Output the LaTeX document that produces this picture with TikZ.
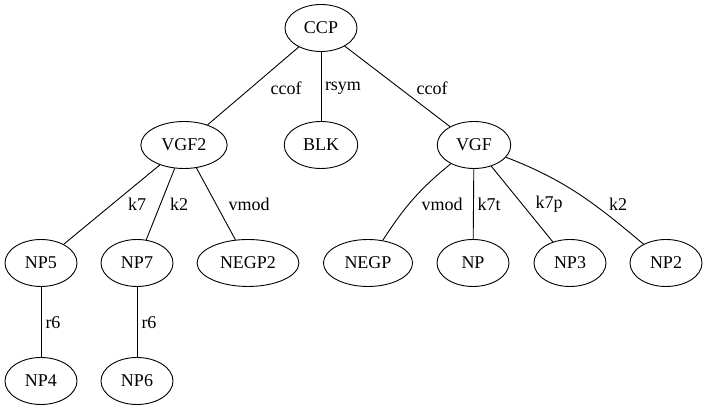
\documentclass[tikz,border=0pt]{standalone}
\usepackage{fontspec}
\setmainfont{Liberation Serif}
\usetikzlibrary{shapes.geometric}
\begin{document}
\begin{tikzpicture}[x=1pt,y=1pt,
  every node/.style={font=\fontsize{18}{21}\selectfont},
  tnode/.style={draw, ellipse, line width=0.9pt, minimum height=47pt,
    minimum width=72pt, inner xsep=8pt, inner ysep=2pt},
  lbl/.style={inner sep=0pt},
  link/.style={line width=0.9pt}]
\useasboundingbox (0,0) rectangle (707,411);
% tree nodes
\node[tnode] (CCP)   at (321,383) {CCP};
\node[tnode] (VGF2)  at (184,266) {VGF2};
\node[tnode] (BLK)   at (321,266) {BLK};
\node[tnode] (VGF)   at (474,266) {VGF};
\node[tnode] (NP5)   at (41,148)  {NP5};
\node[tnode] (NP7)   at (137,148) {NP7};
\node[tnode] (NEGP2) at (248,148) {NEGP2};
\node[tnode] (NEGP)  at (368,148) {NEGP};
\node[tnode] (NP)    at (473,148) {NP};
\node[tnode] (NP3)   at (570,148) {NP3};
\node[tnode] (NP2)   at (666,148) {NP2};
\node[tnode] (NP4)   at (41,30)   {NP4};
\node[tnode] (NP6)   at (137,30)  {NP6};
% connectors
\draw[link] (CCP) -- (VGF2);
\draw[link] (CCP) -- (BLK);
\draw[link] (CCP) -- (VGF);
\draw[link] (VGF2) -- (NP5);
\draw[link] (VGF2) -- (NP7);
\draw[link] (VGF2) -- (NEGP2);
\draw[link] (NP5) -- (NP4);
\draw[link] (NP7) -- (NP6);
\draw[link] (VGF) to[out=219, in=57] (NEGP);
\draw[link] (VGF) -- (NP);
\draw[link] (VGF) -- (NP3);
\draw[link] (VGF) to[out=-21, in=140] (NP2);
% edge labels
\node[lbl] (l1)  at (286,323) {ccof};
\node[lbl] (l2)  at (343,323) {rsym};
\node[lbl] (l3)  at (432,323) {ccof};
\node[lbl] (l4)  at (137,207) {k7};
\node[lbl] (l5)  at (179,207) {k2};
\node[lbl] (l6)  at (249,207) {vmod};
\node[lbl] (l7)  at (442,207) {vmod};
\node[lbl] (l8)  at (489,207) {k7t};
\node[lbl] (l9)  at (549,207) {k7p};
\node[lbl] (l10) at (618,207) {k2};
\node[lbl] (l11) at (53,88)   {r6};
\node[lbl] (l12) at (149,88)  {r6};
\end{tikzpicture}
\end{document}
